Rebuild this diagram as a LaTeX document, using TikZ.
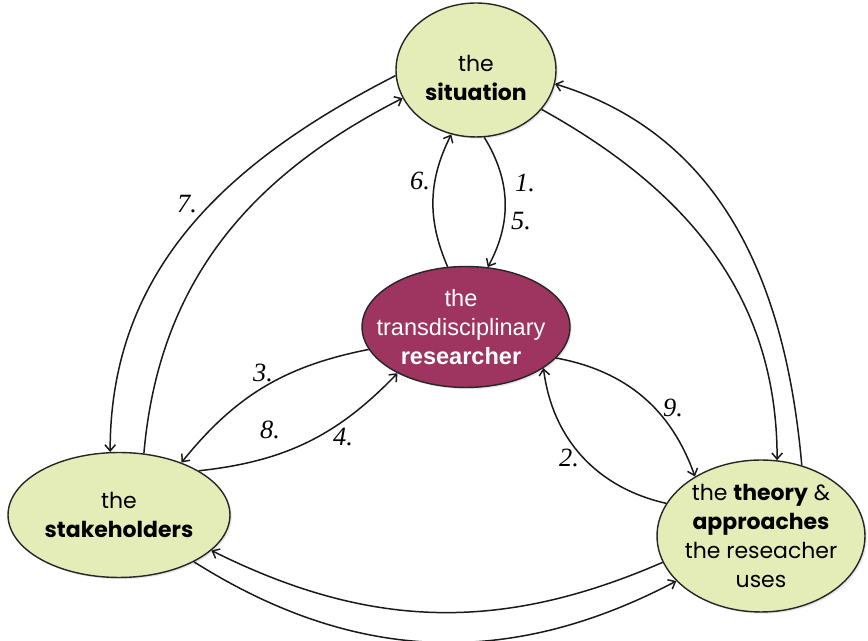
\documentclass[tikz,border=0pt]{standalone}
\usepackage{fontspec}
\usetikzlibrary{shapes.geometric,arrows.meta,shadows}
\newfontfamily\gothic{Poppins}
\newfontfamily\arialfont{Liberation Sans}
\newfontfamily\numfont{Liberation Serif}
\definecolor{pale}{RGB}{228,236,184}
\definecolor{wine}{RGB}{158,52,96}
\tikzset{
  blob/.style={ellipse,draw=black!85,line width=0.8pt,fill=pale,inner sep=0pt,
    drop shadow={opacity=0.2,shadow xshift=1pt,shadow yshift=-1pt}},
  word/.style={align=center,inner sep=0pt,font=\gothic\fontsize{12.5}{17}\selectfont},
  arr/.style={draw=black!90,line width=0.85pt,-{Straight Barb[length=3.5pt,width=6pt]}},
  num/.style={font=\numfont\itshape\fontsize{15}{17}\selectfont}
}
\begin{document}
\begin{tikzpicture}[x=0.02cm,y=0.02cm]
  \useasboundingbox (0,0) rectangle (868,641);
  \node[blob,minimum width=3.2cm,minimum height=2.68cm] (sit) at (476,571) {};
  \node[blob,fill=wine,minimum width=4.16cm,minimum height=2.42cm] (res) at (466,314) {};
  \node[blob,minimum width=4.44cm,minimum height=2.5cm] (stake) at (119,126) {};
  \node[blob,minimum width=4.16cm,minimum height=3.04cm] (theo) at (761,105) {};
  \node[word] (sitT) at ([yshift=-0.16cm]sit) {the\\\textbf{situation}};
  \node[word,text=white,font=\arialfont\fontsize{13.4}{16.5}\selectfont] (resT) at ([xshift=-0.1cm]res) {the\\transdisciplinary\\\textbf{researcher}};
  \node[word] (stakeT) at (stake) {the\\\textbf{stakeholders}};
  \node[word,font=\gothic\fontsize{12.5}{16.5}\selectfont] (theoT) at (theo) {the \textbf{theory} \&\\\textbf{approaches}\\the reseacher\\uses};
  \draw[arr] (sit.-83) to[bend left=30] (res.70);
  \draw[arr] (res.107) to[bend left=25] (sit.-111);
  \draw[arr] (sit.184) to[out=207,in=90] (stake.98);
  \draw[arr] (stake.68) to[out=85,in=207] (sit.201);
  \draw[arr] (theo.60) to[out=95,in=-17] (sit.-10);
  \draw[arr] (sit.-31) to[out=-29,in=90] (theo.78);
  \draw[arr] (res.193) to[bend right=20] (stake.40);
  \draw[arr] (stake.29) to[bend right=20] (res.214);
  \draw[arr] (res.-19) to[bend left=30] (theo.138);
  \draw[arr] (theo.161) to[bend left=35] (res.-28);
  \draw[arr] (theo.195) to[bend left=25] (stake.-21);
  \draw[arr] (stake.-32) to[bend right=30] (theo.208);
  \foreach \t/\px/\py in {1/525/458, 5/521/420, 6/420/460, 7/187/437, 3/263/268, 8/270/211, 4/343/204, 9/673/233, 2/569/183}
    \node[num] (n\t) at (\px,\py) {\t.};
\end{tikzpicture}
\end{document}
